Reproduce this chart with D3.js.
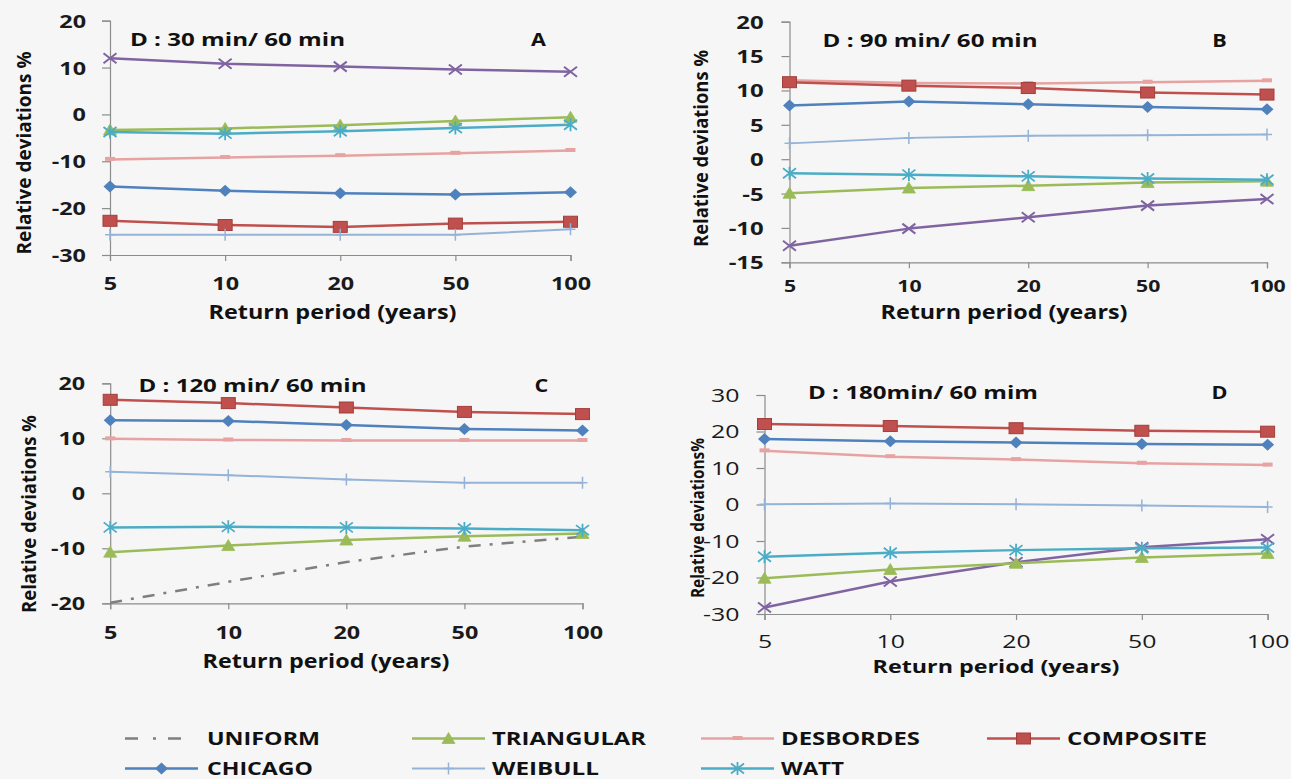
<!DOCTYPE html>
<html>
<head>
<meta charset="utf-8">
<script src="https://cdn.jsdelivr.net/npm/d3@7"></script>
<style>
  html, body { margin: 0; padding: 0; background: #f6f6f6; }
  svg { display: block; font-family: "Open Sans", "Liberation Sans", sans-serif; }
</style>
</head>
<body>
<svg id="chart" width="1291" height="779"></svg>
<script>
// Return periods (categories on the x axis)
const periods = ["5", "10", "20", "50", "100"];

// Legend order of the design storms
const seriesNames = ["UNIFORM", "TRIANGULAR", "DESBORDES", "COMPOSITE", "CHICAGO", "WEIBULL", "WATT"];

// Panel A : D = 30 min / 60 min  (relative deviations, %)
const uniformA    = [12.0, 10.8, 10.2, 9.6, 9.1];
const triangularA = [-3.3, -3.0, -2.3, -1.4, -0.6];
const desbordesA  = [-9.6, -9.2, -8.8, -8.3, -7.7];
const compositeA  = [-22.7, -23.6, -24.0, -23.3, -22.9];
const chicagoA    = [-15.4, -16.3, -16.8, -17.1, -16.6];
const weibullA    = [-25.7, -25.7, -25.7, -25.7, -24.5];
const wattA       = [-3.75, -4.1, -3.6, -2.9, -2.2];

// Panel B : D = 90 min / 60 min
const uniformB    = [-12.6, -10.1, -8.45, -6.75, -5.8];
const triangularB = [-4.95, -4.2, -3.85, -3.4, -3.2];
const desbordesB  = [11.5, 11.1, 11.0, 11.2, 11.4];
const compositeB  = [11.2, 10.7, 10.35, 9.7, 9.4];
const chicagoB    = [7.8, 8.4, 8.0, 7.6, 7.25];
const weibullB    = [2.3, 3.1, 3.4, 3.5, 3.6];
const wattB       = [-2.05, -2.25, -2.5, -2.8, -3.0];

// Panel C : D = 120 min / 60 min
const uniformC    = [-19.9, -16.1, -12.5, -9.7, -7.9];
const triangularC = [-10.7, -9.5, -8.5, -7.8, -7.3];
const desbordesC  = [9.9, 9.7, 9.6, 9.6, 9.6];
const compositeC  = [17.0, 16.4, 15.6, 14.8, 14.4];
const chicagoC    = [13.3, 13.15, 12.4, 11.7, 11.4];
const weibullC    = [3.9, 3.3, 2.5, 1.9, 1.9];
const wattC       = [-6.2, -6.1, -6.2, -6.4, -6.7];

// Panel D : D = 180 min / 60 min
const uniformD    = [-28.2, -21.1, -15.8, -11.7, -9.5];
const triangularD = [-20.2, -17.8, -16.1, -14.5, -13.4];
const desbordesD  = [14.7, 13.1, 12.3, 11.3, 10.8];
const compositeD  = [22.05, 21.5, 20.9, 20.2, 19.95];
const chicagoD    = [17.95, 17.3, 17.0, 16.6, 16.4];
const weibullD    = [0.05, 0.3, 0.1, -0.3, -0.7];
const wattD       = [-14.3, -13.2, -12.5, -12.0, -11.8];

// Y tick values per panel
const yTicksA = [-30, -20, -10, 0, 10, 20];
const yTicksB = [-15, -10, -5, 0, 5, 10, 15, 20];
const yTicksC = [-20, -10, 0, 10, 20];
const yTicksD = [-30, -20, -10, 0, 10, 20, 30];

// Text labels
const panelTitles = ["D : 30 min/ 60 min", "D : 90 min/ 60 min", "D : 120 min/ 60 min", "D : 180min/ 60 mim"];
const panelLetters = ["A", "B", "C", "D"];
const xTitle = "Return period (years)";
const yTitles = ["Relative deviations  %", "Relative deviations %", "Relative deviations %", "Relative deviations%"];

// ---------- styling ----------
const axisColor = "#8c8c8c";
const styles = {
  UNIFORM:    { color: "#8064a2", width: 2.5, marker: "x" },
  TRIANGULAR: { color: "#9bbb59", width: 2.5, marker: "triangle" },
  DESBORDES:  { color: "#e6a3a2", width: 2.5, marker: "dash" },
  COMPOSITE:  { color: "#c0504d", width: 2.5, marker: "square" },
  CHICAGO:    { color: "#4f81bd", width: 2.5, marker: "diamond" },
  WEIBULL:    { color: "#95b3d7", width: 2,   marker: "plus" },
  WATT:       { color: "#4bacc6", width: 2.5, marker: "star" }
};
// uniform storm drawn as a grey dash-dot line without markers
const uniformDashStyle = { color: "#7f7f7f", width: 2.5, marker: null, dash: "12,9,3,9" };

const svg = d3.select("#chart");
svg.append("rect").attr("width", 1291).attr("height", 779).attr("fill", "#f6f6f6");

function drawMarker(g, type, color) {
  switch (type) {
    case "triangle":
      g.append("path").attr("d", "M0,-6L6.5,5H-6.5Z").attr("fill", color).attr("stroke", color).attr("stroke-width", 0.8);
      break;
    case "square":
      g.append("rect").attr("x", -7).attr("y", -5.5).attr("width", 14).attr("height", 11)
        .attr("fill", color).attr("stroke", "#a23f3c").attr("stroke-width", 1);
      break;
    case "diamond":
      g.append("path").attr("d", "M0,-6L6.5,0L0,6L-6.5,0Z").attr("fill", color);
      break;
    case "x":
      g.append("path").attr("d", "M-6.5,-5L6.5,5M-6.5,5L6.5,-5").attr("stroke", color).attr("stroke-width", 2).attr("fill", "none");
      break;
    case "star":
      g.append("path").attr("d", "M-6.5,-5L6.5,5M-6.5,5L6.5,-5M0,-6.5V6.5").attr("stroke", color).attr("stroke-width", 1.8).attr("fill", "none");
      break;
    case "plus":
      g.append("path").attr("d", "M0,-6V6M-5,0H5").attr("stroke", color).attr("stroke-width", 1.5).attr("fill", "none");
      break;
    case "dash":
      g.append("rect").attr("x", -5).attr("y", -2.5).attr("width", 10).attr("height", 4).attr("fill", color);
      break;
  }
}

function fit(sel, len) {
  return sel.attr("textLength", len).attr("lengthAdjust", "spacingAndGlyphs");
}

// ---------- panel layout ----------
const panels = [
  { series: [uniformA, triangularA, desbordesA, compositeA, chicagoA, weibullA, wattA], yDomain: [-30, 20], yTicks: yTicksA,
    xRange: [110, 570.5], yRange: [255, 20.7], uniformDash: false,
    tickFont: 18, tickWeight: "bold", sx: 1.3, xTickFont: 18, xTickY: 35, yGap: 24,
    title: { x: 130, y: 46, len: 215 }, letter: { x: 538.5, y: 46.5 },
    xTitle: { x: 332.5, y: 319, len: 248, font: 20 }, yTitle: { x: 31, y: 153, len: 203, font: 19 } },
  { series: [uniformB, triangularB, desbordesB, compositeB, chicagoB, weibullB, wattB], yDomain: [-15, 20], yTicks: yTicksB,
    xRange: [789.5, 1267], yRange: [262.3, 21.7], uniformDash: false,
    tickFont: 18, tickWeight: "bold", sx: 1.33, xTickFont: 16, xTickY: 29.4, yGap: 25.8,
    title: { x: 822.6, y: 47, len: 215 }, letter: { x: 1219.5, y: 47.5 },
    xTitle: { x: 1004, y: 318.5, len: 247, font: 20 }, yTitle: { x: 708, y: 148.5, len: 197, font: 19 } },
  { series: [uniformC, triangularC, desbordesC, compositeC, chicagoC, weibullC, wattC], yDomain: [-20, 20], yTicks: yTicksC,
    xRange: [110.2, 582.5], yRange: [603.3, 383.3], uniformDash: true,
    tickFont: 18, tickWeight: "bold", sx: 1.3, xTickFont: 18, xTickY: 36, yGap: 25,
    title: { x: 138.5, y: 392, len: 228 }, letter: { x: 541.5, y: 392 },
    xTitle: { x: 326, y: 668, len: 247, font: 20 }, yTitle: { x: 36, y: 514, len: 198, font: 19 } },
  { series: [uniformD, triangularD, desbordesD, compositeD, chicagoD, weibullD, wattD], yDomain: [-30, 30], yTicks: yTicksD,
    xRange: [764.5, 1267.6], yRange: [614, 395], uniformDash: false,
    tickFont: 18, tickWeight: "normal", sx: 1.38, xTickFont: 18, xTickY: 34.5, yGap: 25,
    title: { x: 808, y: 399, len: 230 }, letter: { x: 1219.5, y: 399 },
    xTitle: { x: 996, y: 673, len: 247, font: 17 }, yTitle: { x: 704, y: 518, len: 160, font: 17 } }
];

panels.forEach((p, pi) => {
  const g = svg.append("g");
  const x = d3.scalePoint().domain(periods).range(p.xRange).padding(0);
  const y = d3.scaleLinear().domain(p.yDomain).range(p.yRange);

  // vertical axis
  const ya = g.append("g")
    .attr("transform", `translate(${p.xRange[0]},0)`)
    .attr("color", axisColor)
    .call(d3.axisLeft(y).tickValues(p.yTicks).tickSize(8).tickFormat(d => String(d)));
  ya.select(".domain").attr("stroke-width", 1.2);
  ya.selectAll(".tick line").attr("stroke-width", 1.2);
  ya.selectAll(".tick text")
    .attr("x", -p.yGap / p.sx).attr("dy", "0.36em")
    .attr("transform", `scale(${p.sx},1)`)
    .attr("fill", "#1a1a1a")
    .style("font-family", "'Open Sans', sans-serif")
    .style("font-size", p.tickFont + "px")
    .style("font-weight", p.tickWeight);

  // horizontal axis
  const xa = g.append("g")
    .attr("transform", `translate(0,${p.yRange[0]})`)
    .attr("color", axisColor)
    .call(d3.axisBottom(x).tickSize(6));
  xa.select(".domain").attr("stroke-width", 1.2);
  xa.selectAll(".tick line").attr("stroke-width", 1.2);
  xa.selectAll(".tick text")
    .attr("y", p.xTickY).attr("dy", 0)
    .attr("transform", `scale(${p.sx},1)`)
    .attr("fill", "#1a1a1a")
    .style("font-family", "'Open Sans', sans-serif")
    .style("font-size", p.xTickFont + "px")
    .style("font-weight", p.tickWeight);

  // series lines and markers
  const line = d3.line().x((d, i) => x(periods[i])).y(d => y(d));
  seriesNames.forEach((name, si) => {
    let st = styles[name];
    if (name === "UNIFORM" && p.uniformDash) st = uniformDashStyle;
    const vals = p.series[si];
    g.append("path")
      .datum(vals)
      .attr("d", line)
      .attr("fill", "none")
      .attr("stroke", st.color)
      .attr("stroke-width", st.width)
      .attr("stroke-linejoin", "round")
      .attr("stroke-dasharray", st.dash || null);
    if (st.marker) {
      vals.forEach((v, i) => {
        const m = g.append("g").attr("transform", `translate(${x(periods[i])},${y(v)})`);
        drawMarker(m, st.marker, st.color);
      });
    }
  });

  // panel captions
  fit(g.append("text").attr("x", p.title.x).attr("y", p.title.y)
    .attr("font-size", 18).attr("font-weight", "bold").attr("fill", "#111")
    .text(panelTitles[pi]), p.title.len);
  g.append("text").attr("x", p.letter.x).attr("y", p.letter.y).attr("text-anchor", "middle")
    .attr("font-size", 18).attr("font-weight", "bold").attr("fill", "#111")
    .attr("transform", `translate(${p.letter.x},0) scale(1.2,1) translate(${-p.letter.x},0)`)
    .text(panelLetters[pi]);
  fit(g.append("text").attr("x", p.xTitle.x).attr("y", p.xTitle.y).attr("text-anchor", "middle")
    .attr("font-size", p.xTitle.font).attr("font-weight", "bold").attr("fill", "#111")
    .text(xTitle), p.xTitle.len);
  fit(g.append("text")
    .attr("transform", `translate(${p.yTitle.x},${p.yTitle.y}) rotate(-90)`)
    .attr("text-anchor", "middle")
    .attr("font-size", p.yTitle.font).attr("font-weight", "bold").attr("fill", "#111")
    .text(yTitles[pi]), p.yTitle.len);
});

// ---------- legend ----------
const legendCols = [125, 412, 701, 987];
const legendTextX = [207, 492, 781, 1067];
const legendRows = [738.5, 768.5];
const legendLen = { UNIFORM: 113, TRIANGULAR: 154, DESBORDES: 139, COMPOSITE: 140, CHICAGO: 106, WEIBULL: 107, WATT: 63 };
const legend = svg.append("g");
seriesNames.forEach((name, i) => {
  const row = i < 4 ? 0 : 1;
  const col = i < 4 ? i : i - 4;
  const ly = legendRows[row];
  const x0 = legendCols[col];
  const st = name === "UNIFORM" ? uniformDashStyle : styles[name];
  legend.append("line")
    .attr("x1", x0).attr("x2", name === "UNIFORM" ? x0 + 59 : x0 + 73)
    .attr("y1", ly).attr("y2", ly)
    .attr("stroke", st.color).attr("stroke-width", st.width)
    .attr("stroke-dasharray", name === "UNIFORM" ? "13,15,3,12" : null);
  if (st.marker) {
    const m = legend.append("g").attr("transform", `translate(${x0 + 36.5},${ly})`);
    drawMarker(m, st.marker, st.color);
  }
  fit(legend.append("text")
    .attr("x", legendTextX[col]).attr("y", ly + 6.5)
    .attr("font-size", 18).attr("font-weight", "bold").attr("fill", "#111")
    .text(name), legendLen[name]);
});
</script>
</body>
</html>
